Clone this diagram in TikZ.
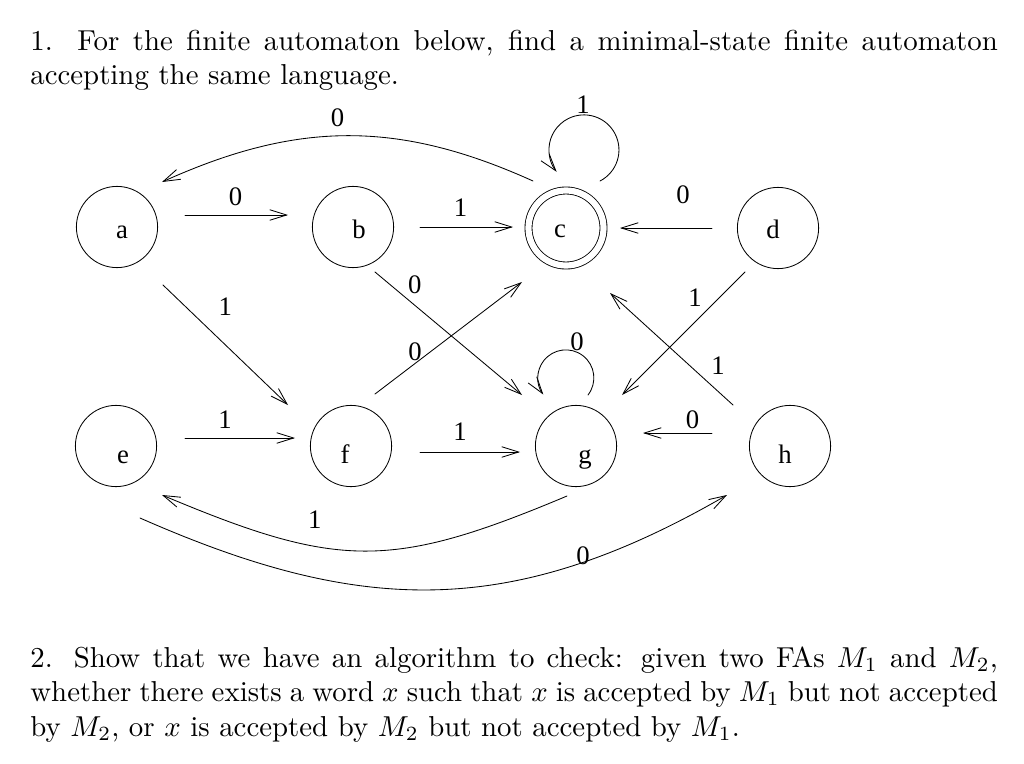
\documentclass[tikz,border=0pt]{standalone}
\usepackage{fontspec}
\newfontfamily\figfont{Liberation Serif}
\usepackage{graphicx}
\usetikzlibrary{arrows.meta}
\tikzset{
  every picture/.style={line join=round, line cap=round, >={Straight Barb[length=12pt,width=7.5pt]}},
  state/.style={circle, draw, line width=0.6pt, minimum size=2.03cm, inner sep=0pt},
  accept/.style={state, double, double distance=4.4pt, minimum size=1.875cm},
  lt/.style={font=\figfont\fontsize{19}{19}\selectfont, text height=0pt, text depth=0pt, inner sep=0pt},
  lbl/.style={font=\figfont\fontsize{19}{19}\selectfont, inner sep=0pt},
}

\begin{document}
\begin{tikzpicture}[x=0.025cm,y=-0.025cm,->,line width=0.6pt]
\useasboundingbox (0,0) rectangle (1024,763);
\node[anchor=base west,inner sep=0pt] (q1) at (30,50) {\scalebox{2.05}{\parbox[t]{335.6pt}{\fontsize{10}{12}\selectfont
1. For the finite automaton below, find a minimal-state finite automaton\linebreak
accepting the same language.}}};
\node[anchor=base west,inner sep=0pt] (q2) at (30,667) {\scalebox{2.05}{\parbox[t]{335.6pt}{\fontsize{10}{12}\selectfont
2. Show that we have an algorithm to check: given two FAs $M_1$ and $M_2$,\linebreak
whether there exists a word $x$ such that $x$ is accepted by $M_1$ but not accepted\linebreak
by $M_2$, or $x$ is accepted by $M_2$ but not accepted by $M_1$.}}};
% states
\node[state,label={[lt,shift={(5,11)}]center:a}] (a) at (117,227) {};
\node[state,label={[lt,shift={(6,11)}]center:b}] (b) at (353,227) {};
\node[accept,label={[lt,shift={(-6,9)}]center:c}] (c) at (566,228) {};
\node[state,label={[lt,shift={(-5,10)}]center:d}] (d) at (778,228) {};
\node[state,label={[lt,shift={(7,17)}]center:e}] (e) at (116,446) {};
\node[state,label={[lt,shift={(-6,17)}]center:f}] (f) at (351,446) {};
\node[state,label={[lt,shift={(9,17)}]center:g}] (g) at (576,446) {};
\node[state,label={[lt,shift={(-5,17)}]center:h}] (h) at (790,446) {};
% straight transitions
\draw ([shift={(68,-12)}]a.center) -- ([shift={(-65,-12)}]b.center) node[lbl,midway,shift={(-1,-18)}] {0};
\draw ([shift={(67,0)}]b.center) -- ([shift={(-53,-1)}]c.center) node[lbl,midway,shift={(-6,-19)}] {1};
\draw ([shift={(-66,0)}]d.center) -- ([shift={(54,0)}]c.center) node[lbl,midway,shift={(17,-33)}] {0};
\draw ([shift={(46,58)}]a.center) -- ([shift={(-63,-41)}]f.center) node[lbl,pos=.346,shift={(19,-20)}] {1};
\draw ([shift={(22,45)}]b.center) -- ([shift={(-54,-51)}]g.center) node[lbl,pos=.203,shift={(10,-12)}] {0};
\draw ([shift={(24,-52)}]f.center) -- ([shift={(-44,54)}]c.center) node[lbl,pos=.306,shift={(-5,-8)}] {0};
\draw ([shift={(-33,44)}]d.center) -- ([shift={(46,-51)}]g.center) node[lbl,pos=.309,shift={(-12,-12)}] {1};
\draw ([shift={(-57,-41)}]h.center) -- ([shift={(44,65)}]c.center) node[lbl,pos=.228,shift={(13,-14)}] {1};
\draw ([shift={(69,-8)}]e.center) -- ([shift={(-56,-8)}]f.center) node[lbl,midway,shift={(-15,-18)}] {1};
\draw ([shift={(69,6)}]f.center) -- ([shift={(-56,6)}]g.center) node[lbl,midway,shift={(-10,-20)}] {1};
\draw ([shift={(-78,-13)}]h.center) -- ([shift={(67,-13)}]g.center) node[lbl,midway,shift={(15,-13)}] {0};
% curved transitions
\draw ([shift={(-33,-47)}]c.center) .. controls +(-135,-61) and +(135,-61) .. ([shift={(45,-45)}]a.center) node[lbl,midway,shift={(-10,-18)}] {0};
\draw ([shift={(-9,50)}]g.center) .. controls +(-176,74) and +(176,74) .. ([shift={(46,49)}]e.center) node[lbl,pos=.6,shift={(-15,-29)}] {1};
\draw ([shift={(24,72)}]e.center) .. controls +(218,96) and +(-218,126) .. ([shift={(-63,49)}]h.center) node[lbl,pos=.75,shift={(9,-10)}] {0};
% loops
\draw ([shift={(34,-47)}]c.center) arc[start angle=-62.7,end angle=218.7,radius=0.875cm];
\node[lbl] (l1) at (583,105) {1};
\draw ([shift={(12,-51)}]g.center) arc[start angle=-37.7,end angle=216.5,radius=0.7cm];
\node[lbl] (l0) at (577,342) {0};
\end{tikzpicture}
\end{document}
